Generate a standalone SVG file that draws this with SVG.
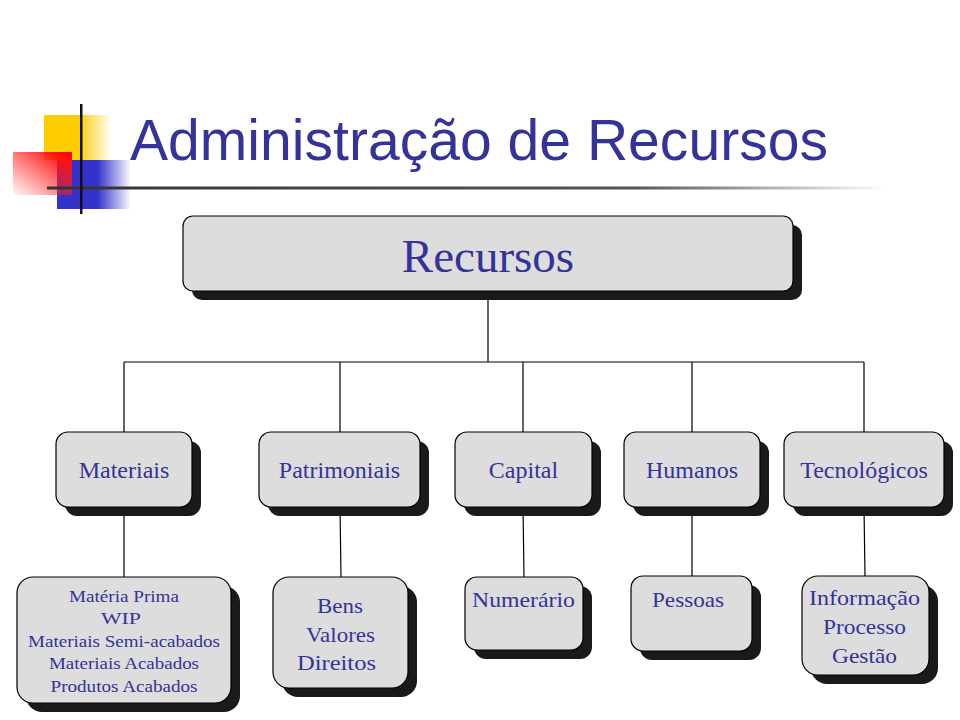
<svg xmlns="http://www.w3.org/2000/svg" width="960" height="720" viewBox="0 0 960 720">
<style>
.box{fill:#dddddd;stroke:#000;stroke-width:1.2}
.sh{fill:#1a1a1a}
.t{font-family:"Liberation Serif","Times New Roman",serif;fill:#333399;text-anchor:middle}
.ln{stroke:#000;stroke-width:1.2;fill:none}
</style>
<defs>
<linearGradient id="gy" x1="0" y1="0" x2="1" y2="0"><stop offset="0" stop-color="#ffcc00"/><stop offset="0.5" stop-color="#ffcc00"/><stop offset="1" stop-color="#ffcc00" stop-opacity="0"/></linearGradient>
<linearGradient id="gb" x1="0" y1="0" x2="1" y2="0"><stop offset="0" stop-color="#3333cc"/><stop offset="0.55" stop-color="#3333cc"/><stop offset="1" stop-color="#3333cc" stop-opacity="0"/></linearGradient>
<linearGradient id="gr" x1="1" y1="0" x2="0" y2="1"><stop offset="0" stop-color="#ff0000"/><stop offset="0.15" stop-color="#ff1010"/><stop offset="1" stop-color="#ff3030" stop-opacity="0.05"/></linearGradient>
<linearGradient id="gl" x1="0" y1="0" x2="1" y2="0"><stop offset="0" stop-color="#333333"/><stop offset="0.7" stop-color="#555555"/><stop offset="1" stop-color="#555555" stop-opacity="0"/></linearGradient>
</defs>
<g id="logo">
<rect x="44" y="115" width="68" height="45" fill="url(#gy)"/>
<rect x="57" y="160" width="74" height="49" fill="url(#gb)"/>
<rect x="13" y="152" width="59" height="43" fill="url(#gr)"/>
<rect x="47" y="186.5" width="840" height="3" fill="url(#gl)"/>
<rect x="80" y="104" width="2.5" height="110" fill="#111"/>
</g>
<text id="title" x="130" y="160" font-family="'Liberation Sans',Arial,sans-serif" font-size="57" fill="#333399" textLength="698" lengthAdjust="spacingAndGlyphs">Administração de Recursos</text>
<g id="connectors">
<path class="ln" d="M488 291V362M124 362H864M124 362V432M340 362V432M523 362V432M692 362V432M864 362V432"/>
<path class="ln" d="M124 507V577M340 507L341 577M523 507L524 577M692 507L692 577M864 507L865 576"/>
</g>
<g id="recursos">
<rect class="sh" x="192" y="225" width="610" height="75" rx="10"/>
<rect class="box" x="183" y="216" width="610" height="75" rx="10"/>
<text class="t" x="488" y="272" font-size="47">Recursos</text>
</g>
<g id="materiais">
<rect class="sh" x="65" y="441" width="136" height="75" rx="12"/>
<rect class="box" x="56" y="432" width="136" height="75" rx="12"/>
<text class="t" x="124" y="478" font-size="24">Materiais</text>
</g>
<g id="patrimoniais">
<rect class="sh" x="268" y="441" width="161" height="75" rx="12"/>
<rect class="box" x="259" y="432" width="161" height="75" rx="12"/>
<text class="t" x="339.5" y="478" font-size="24">Patrimoniais</text>
</g>
<g id="capital">
<rect class="sh" x="464" y="441" width="137" height="75" rx="12"/>
<rect class="box" x="455" y="432" width="137" height="75" rx="12"/>
<text class="t" x="523.5" y="478" font-size="24">Capital</text>
</g>
<g id="humanos">
<rect class="sh" x="633" y="441" width="136" height="75" rx="12"/>
<rect class="box" x="624" y="432" width="136" height="75" rx="12"/>
<text class="t" x="692" y="478" font-size="24">Humanos</text>
</g>
<g id="tecnologicos">
<rect class="sh" x="793" y="441" width="160" height="75" rx="12"/>
<rect class="box" x="784" y="432" width="160" height="75" rx="12"/>
<text class="t" x="864" y="478" font-size="24">Tecnológicos</text>
</g>
<g id="materiaprima">
<rect class="sh" x="26" y="586" width="214" height="126" rx="16"/>
<rect class="box" x="17" y="577" width="214" height="126" rx="16"/>
<text class="t" x="124" y="602" font-size="16" textLength="110" lengthAdjust="spacingAndGlyphs">Matéria Prima</text>
<text class="t" x="121" y="624" font-size="16" textLength="40" lengthAdjust="spacingAndGlyphs">WIP</text>
<text class="t" x="124" y="647" font-size="16" textLength="192" lengthAdjust="spacingAndGlyphs">Materiais Semi-acabados</text>
<text class="t" x="124" y="669" font-size="16" textLength="150" lengthAdjust="spacingAndGlyphs">Materiais Acabados</text>
<text class="t" x="124" y="692" font-size="16" textLength="147" lengthAdjust="spacingAndGlyphs">Produtos Acabados</text>
</g>
<g id="bens">
<rect class="sh" x="282" y="586" width="135" height="111" rx="16"/>
<rect class="box" x="273" y="577" width="135" height="111" rx="16"/>
<text class="t" x="340" y="613" font-size="22" textLength="46" lengthAdjust="spacingAndGlyphs">Bens</text>
<text class="t" x="340.5" y="642" font-size="22" textLength="69" lengthAdjust="spacingAndGlyphs">Valores</text>
<text class="t" x="336.5" y="670" font-size="22" textLength="79" lengthAdjust="spacingAndGlyphs">Direitos</text>
</g>
<g id="numerario">
<rect class="sh" x="474" y="586" width="118" height="73" rx="12"/>
<rect class="box" x="465" y="577" width="118" height="73" rx="12"/>
<text class="t" x="523.5" y="607" font-size="22" textLength="103" lengthAdjust="spacingAndGlyphs">Numerário</text>
</g>
<g id="pessoas">
<rect class="sh" x="640" y="585" width="121" height="75" rx="12"/>
<rect class="box" x="631" y="576" width="121" height="75" rx="12"/>
<text class="t" x="688" y="607" font-size="22" textLength="72" lengthAdjust="spacingAndGlyphs">Pessoas</text>
</g>
<g id="informacao">
<rect class="sh" x="811" y="585" width="127" height="99" rx="16"/>
<rect class="box" x="802" y="576" width="127" height="99" rx="16"/>
<text class="t" x="864.5" y="605" font-size="21.5" textLength="111" lengthAdjust="spacingAndGlyphs">Informação</text>
<text class="t" x="864.5" y="634" font-size="21.5" textLength="83" lengthAdjust="spacingAndGlyphs">Processo</text>
<text class="t" x="864.5" y="663" font-size="21.5" textLength="65" lengthAdjust="spacingAndGlyphs">Gestão</text>
</g>
</svg>
